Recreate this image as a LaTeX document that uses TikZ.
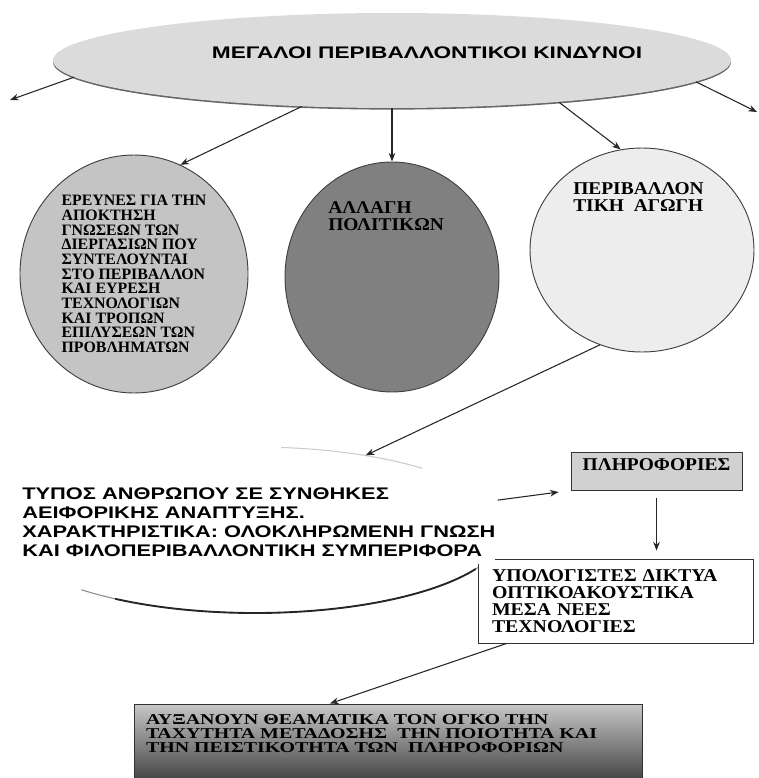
\documentclass[tikz,border=0pt]{standalone}
\usepackage{fontspec}
\setmainfont{Liberation Serif}
\newfontfamily\grsans[FakeStretch=1.30]{Liberation Sans Bold}
\newfontfamily\grsanstitle[FakeStretch=1.35]{Liberation Sans Bold}
\newfontfamily\grserif{Liberation Serif Bold}
\newfontfamily\grserifmid[FakeStretch=1.08]{Liberation Serif Bold}
\newfontfamily\grserifbox[FakeStretch=1.10]{Liberation Serif Bold}
\newfontfamily\grserifwide[FakeStretch=1.33]{Liberation Serif Bold}
\usetikzlibrary{shapes.geometric,shadows,arrows.meta}

\tikzset{
  bubble/.style={ellipse, draw=black!75, line width=0.7pt, inner sep=0pt},
  databox/.style={rectangle, draw=black!80, line width=0.7pt},
  circletext/.style={inner sep=0pt, align=left, font={\grserifmid\fontsize{13.5pt}{12.75pt}\selectfont}},
  arr/.style={->, >={Stealth[length=6.5pt,width=5pt]}, black!85, line width=0.8pt},
}

\begin{document}
\begin{tikzpicture}[x=0.75pt,y=-0.75pt]
\useasboundingbox (0,0) rectangle (759,778);

% top ellipse
\node[ellipse, fill=black!14, minimum width=508.5pt, minimum height=71.25pt,
  drop shadow={shadow xshift=0pt, shadow yshift=-1.2pt, fill=black!60, opacity=1}] (kindynoi) at (392,60.5) {};
\node[inner sep=0pt, font={\grsanstitle\fontsize{12.6pt}{14pt}\selectfont}] (titlos) at (427,53) {ΜΕΓΑΛΟΙ ΠΕΡΙΒΑΛΛΟΝΤΙΚΟΙ ΚΙΝΔΥΝΟΙ};

% three circles
\node[bubble, fill=black!23, minimum width=171pt, minimum height=178.5pt, align=left,
  font={\grserif\fontsize{11.9pt}{11pt}\selectfont}] (erevnes) at (134,274)
  {ΕΡΕΥΝΕΣ ΓΙΑ ΤΗΝ\\ΑΠΟΚΤΗΣΗ\\ΓΝΩΣΕΩΝ ΤΩΝ\\ΔΙΕΡΓΑΣΙΩΝ ΠΟΥ\\ΣΥΝΤΕΛΟΥΝΤΑΙ\\ΣΤΟ ΠΕΡΙΒΑΛΛΟΝ\\ΚΑΙ ΕΥΡΕΣΗ\\ΤΕΧΝΟΛΟΓΙΩΝ\\ΚΑΙ ΤΡΟΠΩΝ\\ΕΠΙΛΥΣΕΩΝ ΤΩΝ\\ΠΡΟΒΛΗΜΑΤΩΝ};
\node[bubble, fill=black!50, minimum width=160.5pt, minimum height=172.5pt] (allagi) at (392,277) {};
\node[circletext, anchor=west] (allagitxt) at (328,216.5) {ΑΛΛΑΓΗ\\ΠΟΛΙΤΙΚΩΝ};
\node[bubble, fill=black!7, minimum width=168pt, minimum height=153pt] (agogi) at (642,250) {};
\node[circletext, anchor=west] (agogitxt) at (573,197) {ΠΕΡΙΒΑΛΛΟΝ\\ΤΙΚΗ~~ΑΓΩΓΗ};

% human type
\node[ellipse, minimum width=375pt, minimum height=124.5pt] (tipos) at (255,530) {};
\draw[black!20, line width=0.8pt] (tipos.center) ++(84:187.5pt and 62.25pt)
  arc[start angle=84, end angle=48, x radius=187.5pt, y radius=62.25pt];
\draw[black!45, line width=0.8pt] (tipos.center) ++(226:187.5pt and 62.25pt)
  arc[start angle=226, end angle=338, x radius=187.5pt, y radius=62.25pt];
\draw[black!85, line width=1.4pt] (tipos.center) ++(236:187.5pt and 62.25pt)
  arc[start angle=236, end angle=332, x radius=187.5pt, y radius=62.25pt];

% boxes
\node[databox, fill=black!18, minimum width=128.25pt, minimum height=28.5pt, text depth=9pt,
  font={\grserifmid\fontsize{13.5pt}{14pt}\selectfont}] (plirofories) at (656.5,471) {ΠΛΗΡΟΦΟΡΙΕΣ};
\node[databox, fill=white, minimum width=206.25pt, minimum height=63pt, text width=185.25pt,
  inner xsep=10.5pt, align=left,
  font={\grserifbox\fontsize{13.5pt}{12.75pt}\selectfont}] (ypologistes) at (615.5,601)
  {ΥΠΟΛΟΓΙΣΤΕΣ ΔΙΚΤΥΑ\\ΟΠΤΙΚΟΑΚΟΥΣΤΙΚΑ\\ΜΕΣΑ ΝΕΕΣ\\ΤΕΧΝΟΛΟΓΙΕΣ};
\node[databox, top color=black!22, bottom color=black!72, minimum width=381pt, minimum height=55.5pt,
  text width=363pt, inner xsep=9pt, align=left,
  font={\grserifwide\fontsize{11.25pt}{10.5pt}\selectfont}] (afxanoun) at (388,741)
  {ΑΥΞΑΝΟΥΝ ΘΕΑΜΑΤΙΚΑ ΤΟΝ ΟΓΚΟ ΤΗΝ\\ΤΑΧΥΤΗΤΑ ΜΕΤΑΔΟΣΗΣ~~ΤΗΝ ΠΟΙΟΤΗΤΑ ΚΑΙ\\ΤΗΝ ΠΕΙΣΤΙΚΟΤΗΤΑ ΤΩΝ~~ΠΛΗΡΟΦΟΡΙΩΝ\\\mbox{}};

% text over the box corner
\node[anchor=west, fill=white, inner xsep=0pt, inner ysep=6pt, align=left,
  font={\grsans\fontsize{12.6pt}{14.25pt}\selectfont}] (tipostxt) at (22,522)
  {ΤΥΠΟΣ ΑΝΘΡΩΠΟΥ ΣΕ ΣΥΝΘΗΚΕΣ\\ΑΕΙΦΟΡΙΚΗΣ ΑΝΑΠΤΥΞΗΣ.\\ΧΑΡΑΚΤΗΡΙΣΤΙΚΑ: ΟΛΟΚΛΗΡΩΜΕΝΗ ΓΝΩΣΗ\\ΚΑΙ ΦΙΛΟΠΕΡΙΒΑΛΛΟΝΤΙΚΗ ΣΥΜΠΕΡΙΦΟΡΑ};

% arrows
\coordinate (leftend) at (10,100);
\coordinate (rightend) at (757,112);
\path[arr] (kindynoi.183) edge (leftend)
  (kindynoi.207) edge (erevnes.67)
  (kindynoi.south) edge (allagi.north)
  (kindynoi.346) edge (agogi.102)
  (kindynoi.356) edge (rightend)
  (agogi.246) edge (tipos.34)
  (tipos.7) edge[shorten <=6pt, shorten >=9pt] (plirofories.south west)
  (plirofories.south) edge[shorten <=6pt, shorten >=6pt] (plirofories.south |- ypologistes.north)
  ([xshift=21.75pt]ypologistes.south west) edge ([xshift=-43.5pt]afxanoun.north);
\end{tikzpicture}
\end{document}
